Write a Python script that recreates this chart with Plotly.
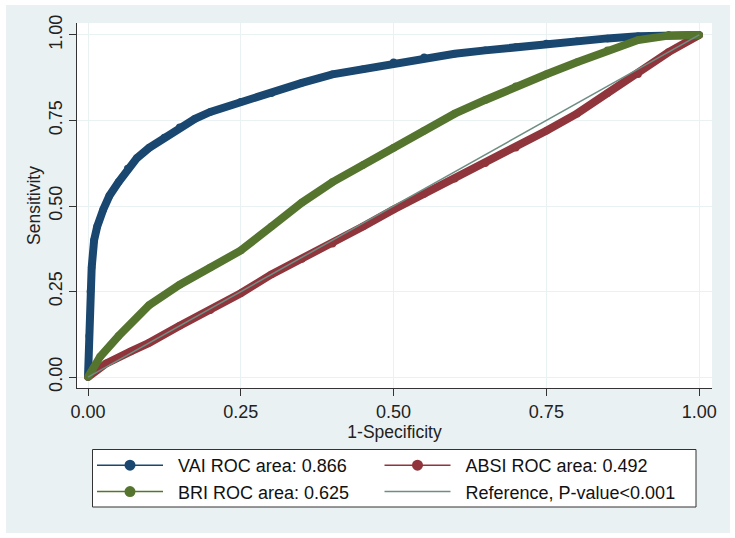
import plotly.graph_objects as go

# ---- data ----
vai_fpr = [0, 0.002, 0.004, 0.006, 0.01, 0.015, 0.025, 0.035, 0.05, 0.065, 0.08, 0.1, 0.125, 0.15,
           0.175, 0.2, 0.25, 0.3, 0.35, 0.4, 0.45, 0.5, 0.55, 0.6, 0.65, 0.7, 0.75, 0.8, 0.85, 0.9, 0.95, 1.0]
vai_tpr = [0, 0.12, 0.25, 0.32, 0.40, 0.44, 0.49, 0.53, 0.57, 0.61, 0.64, 0.67, 0.70, 0.73,
           0.755, 0.775, 0.805, 0.83, 0.86, 0.885, 0.90, 0.92, 0.935, 0.945, 0.955, 0.965, 0.975, 0.982, 0.99, 0.996, 1.0, 1.0]

bri_fpr = [0, 0.02, 0.05, 0.1, 0.15, 0.2, 0.25, 0.3, 0.35, 0.4, 0.45, 0.5, 0.55, 0.6, 0.65, 0.7,
           0.75, 0.8, 0.85, 0.9, 0.95, 1.0]
bri_tpr = [0, 0.06, 0.12, 0.21, 0.27, 0.32, 0.37, 0.44, 0.51, 0.57, 0.62, 0.67, 0.72, 0.77, 0.81, 0.85,
           0.885, 0.92, 0.955, 0.985, 0.998, 1.0]

absi_fpr = [0, 0.03, 0.07, 0.1, 0.15, 0.2, 0.25, 0.3, 0.35, 0.4, 0.45, 0.5, 0.55, 0.6, 0.65, 0.7,
            0.75, 0.8, 0.85, 0.9, 0.95, 1.0]
absi_tpr = [0, 0.04, 0.075, 0.1, 0.15, 0.195, 0.245, 0.30, 0.345, 0.39, 0.44, 0.49, 0.535, 0.58, 0.625, 0.67,
            0.72, 0.77, 0.83, 0.885, 0.95, 1.0]

ref_x = [0, 1]
ref_y = [0, 1]

tick_vals = [0, 0.25, 0.5, 0.75, 1.0]
tick_text = ["0.00", "0.25", "0.50", "0.75", "1.00"]

names = ["VAI ROC area: 0.866", "ABSI ROC area: 0.492", "BRI ROC area: 0.625", "Reference, P-value<0.001"]
colors = ["#1a476f", "#90353b", "#55752f", "#6e8e84"]
legend_ids = ["legend", "legend2", "legend", "legend2"]

BG = "#eaf1f3"
FONT = "Liberation Sans, Arial, sans-serif"

fig = go.Figure()

series = [(vai_fpr, vai_tpr), (absi_fpr, absi_tpr), (bri_fpr, bri_tpr)]
for (xs, ys), c in zip(series, colors[:3]):
    fig.add_trace(go.Scatter(x=xs, y=ys, mode="lines+markers", showlegend=False,
                             line=dict(color=c, width=8, shape="linear"),
                             marker=dict(color=c, size=7.5), hoverinfo="skip"))
fig.add_trace(go.Scatter(x=ref_x, y=ref_y, mode="lines", showlegend=False,
                         line=dict(color=colors[3], width=1.5), hoverinfo="skip"))

# legend-only entries (two legends = two columns)
for i, (n, c, lg) in enumerate(zip(names, colors, legend_ids)):
    mode = "lines" if i == 3 else "lines+markers"
    fig.add_trace(go.Scatter(x=[None], y=[None], mode=mode, name="\u00a0\u00a0" + n, legend=lg,
                             line=dict(color=c, width=1.5), marker=dict(color=c, size=11)))

W, H = 735, 538
L, R, T, B = 77, 23, 23, 150
pw, ph = W - L - R, H - T - B

def px_x(p):
    return (p - L) / pw

def px_y(p):
    return (H - B - p) / ph

axis_common = dict(
    tickvals=tick_vals, ticktext=tick_text, showgrid=True, gridcolor=BG, gridwidth=1,
    zeroline=False, showline=True, linecolor="#333333", linewidth=1, automargin=False,
    ticks="outside", ticklen=7, tickcolor="#333333", tickwidth=1,
    tickfont=dict(size=18, color="#222222", family=FONT),
)

legend_common = dict(orientation="v", xanchor="left", yanchor="top", y=px_y(447),
                     bgcolor="rgba(0,0,0,0)", borderwidth=0,
                     font=dict(size=18, color="#111111", family=FONT),
                     traceorder="normal", tracegroupgap=0, itemwidth=66)

fig.update_layout(
    width=W, height=H,
    margin=dict(l=L, r=R, t=T, b=B, autoexpand=False),
    paper_bgcolor="white", plot_bgcolor="white",
    font=dict(family=FONT, color="#222222"),
    xaxis=dict(range=[-0.018, 1.021], title=dict(text="1-Specificity", font=dict(size=17.5), standoff=0),
               **axis_common),
    yaxis=dict(range=[-0.032, 1.035], tickangle=-90,
               title=dict(text="Sensitivity", font=dict(size=17.5), standoff=0), **axis_common),
    legend=dict(x=px_x(92), **legend_common),
    legend2=dict(x=px_x(379.5), **legend_common),
    shapes=[
        dict(type="rect", xref="paper", yref="paper", x0=px_x(6), x1=px_x(730), y0=px_y(533), y1=px_y(5),
             fillcolor=BG, line=dict(width=0), layer="below"),
        dict(type="rect", xref="paper", yref="paper", x0=0, x1=1, y0=0, y1=1,
             fillcolor="white", line=dict(width=0), layer="below"),
        dict(type="rect", xref="paper", yref="paper", x0=px_x(92.5), x1=px_x(696), y0=px_y(507), y1=px_y(449.5),
             fillcolor="white", line=dict(width=1, color="#333333"), layer="below"),
    ],
)

fig.write_html("out.html", post_script="document.body.style.margin='0';",
               config={"displayModeBar": False})
